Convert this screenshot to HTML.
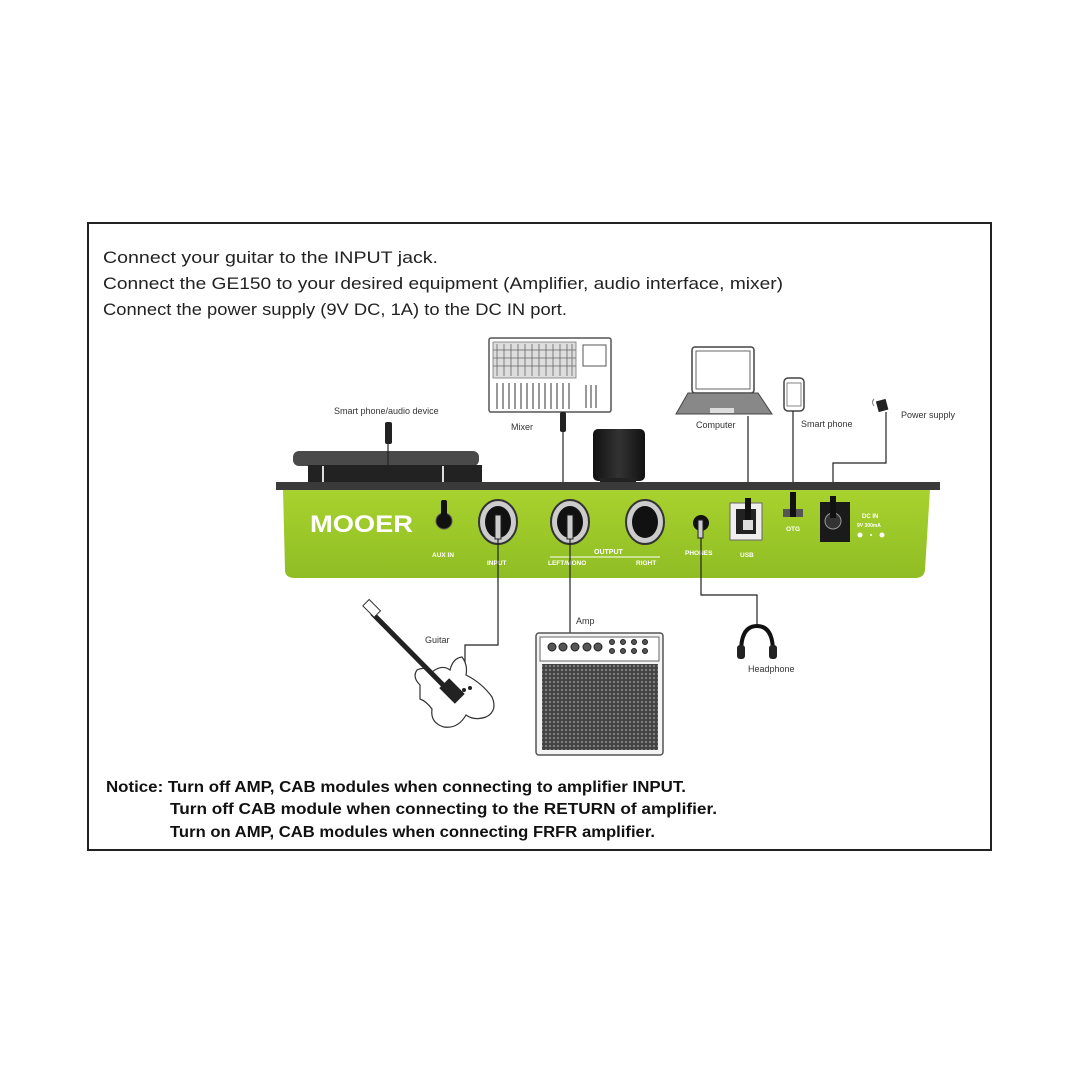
<!DOCTYPE html>
<html><head><meta charset="utf-8"><style>
html,body{margin:0;padding:0;background:#fff;}
svg{display:block;}
</style></head><body>
<svg width="1080" height="1080" viewBox="0 0 1080 1080" xmlns="http://www.w3.org/2000/svg">
<defs>
<linearGradient id="g" x1="0" y1="0" x2="0" y2="1">
<stop offset="0" stop-color="#a8d22e"/><stop offset="1" stop-color="#8fbd24"/></linearGradient>
<linearGradient id="k" x1="0" y1="0" x2="1" y2="0">
<stop offset="0" stop-color="#111"/><stop offset="0.5" stop-color="#333"/><stop offset="1" stop-color="#111"/></linearGradient>
<pattern id="grill" width="4" height="4" patternUnits="userSpaceOnUse">
<rect width="4" height="4" fill="#444"/><circle cx="2" cy="2" r="0.9" fill="#aaa"/></pattern>
</defs>
<rect x="0" y="0" width="1080" height="1080" fill="#fff"/>
<rect x="88" y="223" width="903" height="627" fill="none" stroke="#222" stroke-width="2"/>

<g font-family="Liberation Sans, sans-serif" fill="#222" font-size="17">
<text x="103" y="263" textLength="335" lengthAdjust="spacingAndGlyphs">Connect your guitar to the INPUT jack.</text>
<text x="103" y="289" textLength="680" lengthAdjust="spacingAndGlyphs">Connect the GE150 to your desired equipment (Amplifier, audio interface, mixer)</text>
<text x="103" y="315" textLength="464" lengthAdjust="spacingAndGlyphs">Connect the power supply (9V DC, 1A) to the DC IN port.</text>
</g>
<g font-family="Liberation Sans, sans-serif" fill="#111" font-size="15.5" font-weight="bold">
<text x="106" y="792" textLength="580" lengthAdjust="spacingAndGlyphs">Notice: Turn off AMP, CAB modules when connecting to amplifier INPUT.</text>
<text x="170" y="814" textLength="547" lengthAdjust="spacingAndGlyphs">Turn off CAB module when connecting to the RETURN of amplifier.</text>
<text x="170" y="837" textLength="485" lengthAdjust="spacingAndGlyphs">Turn on AMP, CAB modules when connecting FRFR amplifier.</text>
</g>

<g font-family="Liberation Sans, sans-serif" fill="#333" font-size="9">
<text x="334" y="414">Smart phone/audio device</text>
<text x="511" y="430">Mixer</text>
<text x="696" y="428">Computer</text>
<text x="801" y="427">Smart phone</text>
<text x="901" y="418">Power supply</text>
<text x="425" y="643">Guitar</text>
<text x="576" y="624">Amp</text>
<text x="748" y="672">Headphone</text>
</g>

<rect x="489" y="338" width="122" height="74" fill="#fff" stroke="#555" stroke-width="1.5" rx="2"/>
<rect x="493" y="342" width="83" height="36" fill="#ddd" stroke="#777" stroke-width="0.8"/>
<g stroke="#666" stroke-width="0.8">
<line x1="497" y1="344" x2="497" y2="376"/><line x1="504" y1="344" x2="504" y2="376"/><line x1="511" y1="344" x2="511" y2="376"/><line x1="518" y1="344" x2="518" y2="376"/><line x1="525" y1="344" x2="525" y2="376"/><line x1="532" y1="344" x2="532" y2="376"/><line x1="539" y1="344" x2="539" y2="376"/><line x1="546" y1="344" x2="546" y2="376"/><line x1="553" y1="344" x2="553" y2="376"/><line x1="560" y1="344" x2="560" y2="376"/><line x1="567" y1="344" x2="567" y2="376"/><line x1="572" y1="344" x2="572" y2="376"/>
<line x1="493" y1="350" x2="576" y2="350"/><line x1="493" y1="358" x2="576" y2="358"/><line x1="493" y1="366" x2="576" y2="366"/>
</g>
<g stroke="#333" stroke-width="1">
<line x1="497" y1="383" x2="497" y2="409"/><line x1="503" y1="383" x2="503" y2="409"/><line x1="509" y1="383" x2="509" y2="409"/><line x1="515" y1="383" x2="515" y2="409"/><line x1="521" y1="383" x2="521" y2="409"/><line x1="527" y1="383" x2="527" y2="409"/><line x1="533" y1="383" x2="533" y2="409"/><line x1="539" y1="383" x2="539" y2="409"/><line x1="545" y1="383" x2="545" y2="409"/><line x1="551" y1="383" x2="551" y2="409"/><line x1="557" y1="383" x2="557" y2="409"/><line x1="563" y1="383" x2="563" y2="409"/><line x1="569" y1="383" x2="569" y2="409"/>
<line x1="586" y1="385" x2="586" y2="408"/><line x1="591" y1="385" x2="591" y2="408"/><line x1="596" y1="385" x2="596" y2="408"/>
</g>
<rect x="583" y="345" width="23" height="21" fill="#fff" stroke="#555"/>
<rect x="560" y="412" width="6" height="20" rx="2" fill="#222"/>
<polyline points="563,430 563,484 640,484 645,484 645,512" fill="none" stroke="#222" stroke-width="1.2"/>

<rect x="692" y="347" width="62" height="46" rx="3" fill="#fff" stroke="#444" stroke-width="1.5"/>
<rect x="696" y="351" width="54" height="38" fill="#fff" stroke="#666"/>
<polygon points="688,393 758,393 772,414 676,414" fill="#888" stroke="#444"/>
<rect x="710" y="408" width="24" height="5" fill="#ddd"/>
<line x1="748" y1="416" x2="748" y2="500" stroke="#222" stroke-width="1.2"/>
<rect x="784" y="378" width="20" height="33" rx="4" fill="#fff" stroke="#444" stroke-width="1.5"/>
<rect x="787" y="383" width="14" height="23" fill="#fff" stroke="#666" stroke-width="0.8"/>
<line x1="793" y1="411" x2="793" y2="495" stroke="#222" stroke-width="1.2"/>
<rect x="877" y="400" width="10" height="11" fill="#222" transform="rotate(-15 882 405)"/>
<path d="M874,399 q-3,3 0,7" fill="none" stroke="#777"/>
<polyline points="886,412 886,463 833,463 833,500" fill="none" stroke="#222" stroke-width="1.2"/>

<rect x="293" y="451" width="186" height="15" rx="6" fill="#4a4a4a"/>
<rect x="308" y="465" width="174" height="19" fill="#222"/>
<line x1="323" y1="466" x2="323" y2="483" stroke="#ddd" stroke-width="2"/>
<line x1="443" y1="466" x2="443" y2="483" stroke="#ddd" stroke-width="2"/>
<rect x="356" y="482" width="58" height="3" fill="#bbb"/>
<rect x="385" y="422" width="7" height="22" rx="2" fill="#222"/>
<polyline points="388,444 388,488 444,488 444,512" fill="none" stroke="#222" stroke-width="1.2"/>
<rect x="593" y="429" width="52" height="52" rx="5" fill="url(#k)"/>
<rect x="600" y="478" width="36" height="6" fill="#222"/>

<path d="M283,489 L930,489 L925,570 Q924,578 915,578 L295,578 Q285,578 285,570 Z" fill="url(#g)"/>
<rect x="276" y="482" width="664" height="8" fill="#3a3a3a"/>
<text x="310" y="532" font-family="Liberation Sans, sans-serif" font-weight="bold" font-size="24" fill="#fff" textLength="103" lengthAdjust="spacingAndGlyphs">MOOER</text>
<circle cx="444" cy="521" r="8" fill="#111" stroke="#555"/>
<rect x="441" y="500" width="6" height="20" rx="2" fill="#111"/>
<g>
<ellipse cx="498" cy="522" rx="19" ry="22" fill="#ccc" stroke="#333" stroke-width="2"/>
<ellipse cx="498" cy="522" rx="13" ry="16" fill="#111"/>
<ellipse cx="570" cy="522" rx="19" ry="22" fill="#ccc" stroke="#333" stroke-width="2"/>
<ellipse cx="570" cy="522" rx="13" ry="16" fill="#111"/>
<ellipse cx="645" cy="522" rx="19" ry="22" fill="#ccc" stroke="#333" stroke-width="2"/>
<ellipse cx="645" cy="522" rx="13" ry="16" fill="#111"/>
</g>
<rect x="495" y="515" width="6" height="24" fill="#ccc" stroke="#222"/>
<rect x="567" y="515" width="6" height="24" fill="#ccc" stroke="#222"/>
<rect x="642" y="508" width="6" height="22" fill="#111"/>
<circle cx="701" cy="523" r="8" fill="#111"/>
<rect x="698" y="520" width="5" height="18" fill="#ccc" stroke="#222"/>
<rect x="730" y="503" width="32" height="37" fill="#eee" stroke="#666"/>
<rect x="736" y="509" width="20" height="25" fill="#222"/>
<rect x="745" y="498" width="6" height="26" fill="#111"/>
<rect x="743" y="520" width="10" height="10" fill="#ddd"/>
<rect x="783" y="509" width="20" height="8" fill="#555"/>
<rect x="790" y="492" width="6" height="25" fill="#111"/>
<rect x="820" y="502" width="30" height="40" fill="#1a1a1a"/>
<circle cx="833" cy="521" r="8" fill="#333" stroke="#999"/>
<rect x="830" y="496" width="6" height="22" fill="#111"/>
<g font-family="Liberation Sans, sans-serif" font-weight="bold" fill="#fff">
<text x="862" y="518" font-size="6">DC IN</text>
<text x="857" y="527" font-size="5">9V 300mA</text>
<circle cx="860" cy="535" r="2.5"/><circle cx="871" cy="535" r="1"/><circle cx="882" cy="535" r="2.5"/>
<text x="432" y="557" font-size="6.5">AUX IN</text>
<text x="487" y="565" font-size="6.5">INPUT</text>
<text x="594" y="554" font-size="7">OUTPUT</text>
<text x="548" y="565" font-size="6.5">LEFT/MONO</text>
<text x="636" y="565" font-size="6.5">RIGHT</text>
<text x="685" y="555" font-size="6.5">PHONES</text>
<text x="740" y="557" font-size="6.5">USB</text>
<text x="786" y="531" font-size="6.5">OTG</text>
</g>
<line x1="550" y1="557" x2="660" y2="557" stroke="#fff" stroke-width="1"/>

<polyline points="498,539 498,645 465,645 465,690" fill="none" stroke="#222" stroke-width="1.2"/>
<line x1="570" y1="539" x2="570" y2="646" stroke="#222" stroke-width="1.2"/>
<polyline points="701,538 701,595 757,595 757,625" fill="none" stroke="#222" stroke-width="1.2"/>

<rect x="536" y="633" width="127" height="122" rx="3" fill="#f4f4f4" stroke="#555" stroke-width="1.5"/>
<rect x="540" y="637" width="119" height="24" fill="#fff" stroke="#666"/>
<g fill="#555" stroke="#222">
<circle cx="552" cy="647" r="4"/><circle cx="563" cy="647" r="4"/><circle cx="575" cy="647" r="4"/><circle cx="587" cy="647" r="4"/><circle cx="598" cy="647" r="4"/>
<circle cx="612" cy="642" r="2.5"/><circle cx="623" cy="642" r="2.5"/><circle cx="634" cy="642" r="2.5"/><circle cx="645" cy="642" r="2.5"/>
<circle cx="612" cy="651" r="2.5"/><circle cx="623" cy="651" r="2.5"/><circle cx="634" cy="651" r="2.5"/><circle cx="645" cy="651" r="2.5"/>
</g>
<rect x="542" y="664" width="116" height="86" fill="url(#grill)"/>

<g stroke="#333" fill="none" stroke-width="1.2">
<path d="M420,685 q-8,-8 -3,-15 q8,-4 15,2 q10,-8 18,-2 q3,-12 12,-13 q6,8 4,18 q16,8 26,22 q6,14 -6,20 q-12,4 -20,-2 q-8,14 -22,12 q-14,-4 -12,-18 q-6,-8 -12,-10 z" fill="#fff"/>
</g>
<line x1="372" y1="613" x2="448" y2="690" stroke="#222" stroke-width="5"/>
<rect x="364" y="604" width="16" height="9" fill="#fff" stroke="#333" transform="rotate(45 372 608)"/>
<rect x="445" y="680" width="14" height="22" fill="#222" transform="rotate(-45 452 691)"/>
<circle cx="464" cy="690" r="2" fill="#222"/><circle cx="470" cy="688" r="2" fill="#222"/>

<path d="M741,652 q0,-26 16,-26 q16,0 16,26" fill="none" stroke="#111" stroke-width="4"/>
<rect x="737" y="645" width="8" height="14" rx="3" fill="#222"/>
<rect x="769" y="645" width="8" height="14" rx="3" fill="#222"/>
</svg>
</body></html>
